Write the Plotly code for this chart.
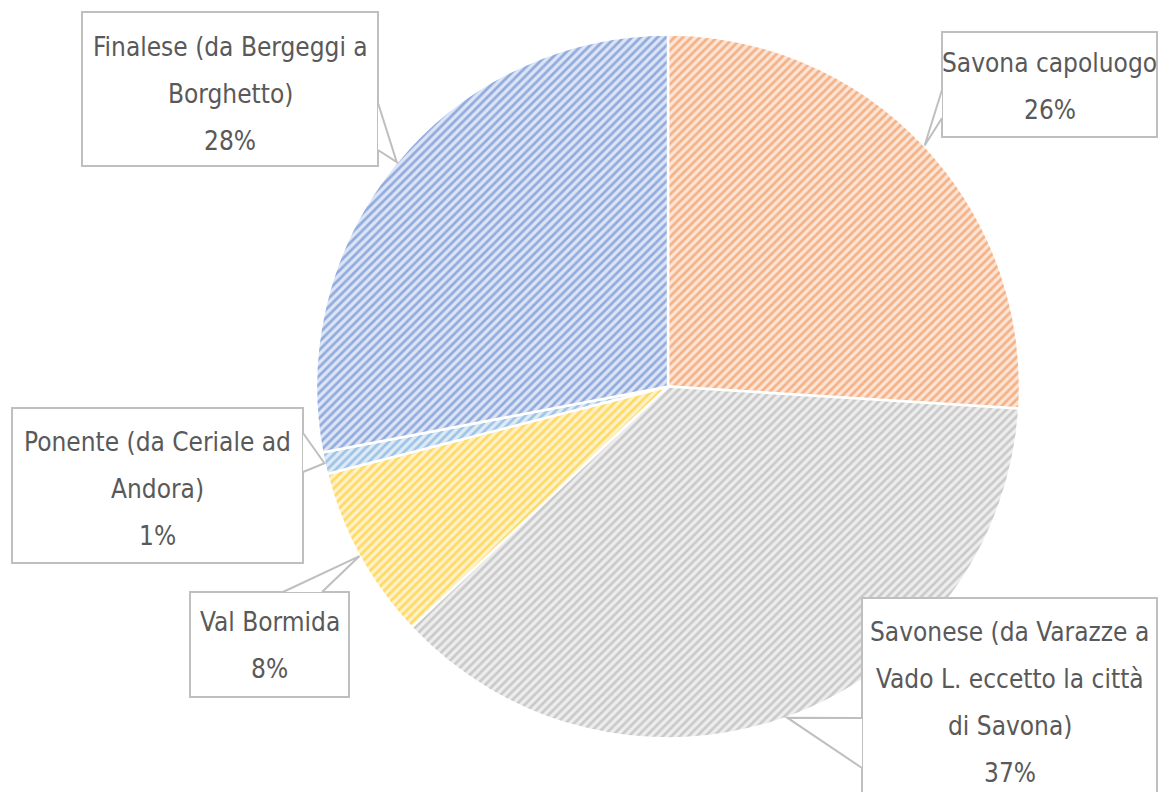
import math
import plotly.graph_objects as go

# --- data ---
categories = [
    "Savona capoluogo",
    "Savonese (da Varazze a Vado L. eccetto la città di Savona)",
    "Val Bormida",
    "Ponente (da Ceriale ad Andora)",
    "Finalese (da Bergeggi a Borghetto)",
]
values = [26, 37, 8, 1, 28]
# how each label wraps inside its box
label_lines = [
    ["Savona capoluogo"],
    ["Savonese (da Varazze a", "Vado L. eccetto la città", "di Savona)"],
    ["Val Bormida"],
    ["Ponente (da Ceriale ad", "Andora)"],
    ["Finalese (da Bergeggi a", "Borghetto)"],
]
fg_colors = ["#ED7D31", "#A5A5A5", "#FFC000", "#5B9BD5", "#4472C4"]
bg_colors = ["#FCE4D6", "#EDEDED", "#FFF2C8", "#DEEBF7", "#DCE4F5"]

# page sits inside the 8px body margin; keep it from overflowing the window
PAGE_W, PAGE_H, OFF = 1166, 800, 8
W, H = PAGE_W - 2 * OFF, PAGE_H - 2 * OFF
CX, CY, R = 668, 386.5, 352  # pie centre / radius (window px)

# label boxes: (x0, y0, x1, y1) in window px, first text line y, wedge base points
boxes = [
    dict(rect=(942, 32, 1157, 137), y0=63, base=[(942, 90), (942, 118)]),
    dict(rect=(862, 598, 1157, 830), y0=632, base=[(862, 718), (862, 768)]),
    dict(rect=(190, 592, 349, 697), y0=622, base=[(283, 592), (322, 592)]),
    dict(rect=(12, 408, 303, 563), y0=442, base=[(303, 433), (303, 472)]),
    dict(rect=(82, 12, 378, 166), y0=47, base=[(378, 103), (378, 150)]),
]
LINE_PITCH = 47
FONT = "DejaVu Sans Condensed, Liberation Sans Narrow, sans-serif"
TEXT_COLOR = "#595959"
BORDER = "#BFBFBF"


def px(x):
    return (x - OFF) / W


def py(y):
    return 1 - (y - OFF) / H


fig = go.Figure()
fig.add_trace(go.Pie(
    labels=categories,
    values=values,
    sort=False,
    direction="clockwise",
    rotation=0,
    textinfo="none",
    hoverinfo="label+percent",
    domain=dict(x=[px(CX - R), px(CX + R)], y=[py(CY + R), py(CY - R)]),
    marker=dict(
        colors=bg_colors,
        line=dict(color="white", width=2.5),
        pattern=dict(shape="/", fgcolor=fg_colors, size=6, solidity=0.45,
                     fillmode="overlay"),
    ),
    showlegend=False,
))

shapes = []
annotations = []
total = sum(values)
cum = 0
for i, v in enumerate(values):
    mid = (cum + v / 2) / total * 2 * math.pi
    cum += v
    tip = (CX + R * math.sin(mid), CY - R * math.cos(mid))
    b = boxes[i]
    x0, y0, x1, y1 = b["rect"]
    shapes.append(dict(type="rect", xref="paper", yref="paper",
                       x0=px(x0), x1=px(x1), y0=py(y1), y1=py(y0),
                       line=dict(color=BORDER, width=2), fillcolor="white"))
    (ax, ay), (bx, by) = b["base"]
    # white wedge covering the box border, then the grey callout outline
    shapes.append(dict(type="path", xref="paper", yref="paper",
                       path=f"M {px(ax)} {py(ay)} L {px(tip[0])} {py(tip[1])} L {px(bx)} {py(by)} Z",
                       fillcolor="white", line=dict(width=0)))
    shapes.append(dict(type="path", xref="paper", yref="paper",
                       path=f"M {px(ax)} {py(ay)} L {px(tip[0])} {py(tip[1])} L {px(bx)} {py(by)}",
                       line=dict(color=BORDER, width=2)))
    lines = label_lines[i] + [f"{v}%"]
    for k, t in enumerate(lines):
        annotations.append(dict(
            x=px((x0 + x1) / 2), y=py(b["y0"] + k * LINE_PITCH),
            xref="paper", yref="paper", text=t, showarrow=False,
            xanchor="center", yanchor="middle",
            font=dict(family=FONT, size=26, color=TEXT_COLOR),
        ))

fig.update_layout(
    width=W, height=H,
    margin=dict(l=0, r=0, t=0, b=0),
    paper_bgcolor="white",
    plot_bgcolor="white",
    shapes=shapes,
    annotations=annotations,
)

fig.write_html("out.html")
